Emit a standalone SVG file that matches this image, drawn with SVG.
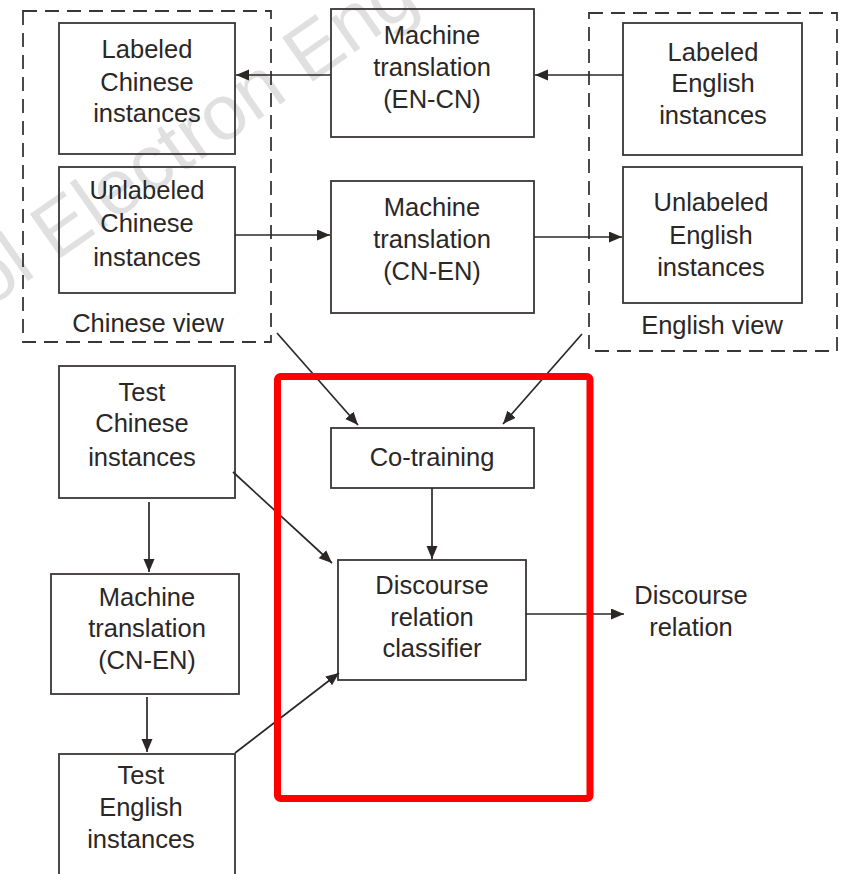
<svg xmlns="http://www.w3.org/2000/svg" width="845" height="874" viewBox="0 0 845 874">
<defs>
<marker id="ah" markerUnits="userSpaceOnUse" markerWidth="14" markerHeight="12" refX="13" refY="5.5" orient="auto">
<path d="M0,0 L13,5.5 L0,11 z" fill="#2b2727"/>
</marker>
<style>
.box{fill:none;stroke:#3a3536;stroke-width:1.8}
.dash{fill:none;stroke:#3a3536;stroke-width:1.8;stroke-dasharray:14 8}
.t{font-family:"Liberation Sans",Arial,sans-serif;font-size:25.5px;fill:#2b2727;text-anchor:middle}
.c{stroke:#2b2727;stroke-width:1.7;fill:none;marker-end:url(#ah)}
.wm{font-family:"Liberation Sans",Arial,sans-serif;font-size:78px;fill:#e0e0e0}
</style>
</defs>
<rect width="845" height="874" fill="#ffffff"/>
<text class="wm" transform="translate(-12,309) rotate(-35)">ol Electron Eng</text>

<g id="chinese-view">
<rect class="dash" x="23" y="11" width="248" height="331"/>
<text class="t" x="148" y="332">Chinese view</text>
</g>
<g id="english-view">
<rect class="dash" x="589" y="13" width="248" height="338"/>
<text class="t" x="712" y="334">English view</text>
</g>

<g id="labeled-chinese">
<rect class="box" x="59" y="23" width="176" height="131"/>
<text class="t" x="147" y="58">Labeled</text>
<text class="t" x="147" y="91">Chinese</text>
<text class="t" x="147" y="122">instances</text>
</g>
<g id="unlabeled-chinese">
<rect class="box" x="59" y="167" width="176" height="126"/>
<text class="t" x="147" y="199">Unlabeled</text>
<text class="t" x="147" y="232">Chinese</text>
<text class="t" x="147" y="266">instances</text>
</g>
<g id="mt-en-cn">
<rect class="box" x="331" y="9" width="203" height="128"/>
<text class="t" x="432" y="44">Machine</text>
<text class="t" x="432" y="76">translation</text>
<text class="t" x="432" y="108">(EN-CN)</text>
</g>
<g id="mt-cn-en">
<rect class="box" x="331" y="181" width="203" height="132"/>
<text class="t" x="432" y="216">Machine</text>
<text class="t" x="432" y="248">translation</text>
<text class="t" x="432" y="280">(CN-EN)</text>
</g>
<g id="labeled-english">
<rect class="box" x="623" y="23" width="179" height="132"/>
<text class="t" x="713" y="61">Labeled</text>
<text class="t" x="713" y="92">English</text>
<text class="t" x="713" y="124">instances</text>
</g>
<g id="unlabeled-english">
<rect class="box" x="623" y="167" width="179" height="136"/>
<text class="t" x="711" y="211">Unlabeled</text>
<text class="t" x="711" y="244">English</text>
<text class="t" x="711" y="276">instances</text>
</g>
<g id="test-chinese">
<rect class="box" x="59" y="366" width="176" height="132"/>
<text class="t" x="142" y="401">Test</text>
<text class="t" x="142" y="432">Chinese</text>
<text class="t" x="142" y="466">instances</text>
</g>
<g id="co-training">
<rect class="box" x="331" y="428" width="203" height="60"/>
<text class="t" x="432" y="466">Co-training</text>
</g>
<g id="classifier">
<rect class="box" x="338" y="560" width="188" height="120"/>
<text class="t" x="432" y="594">Discourse</text>
<text class="t" x="432" y="626">relation</text>
<text class="t" x="432" y="657">classifier</text>
</g>
<g id="mt-lower">
<rect class="box" x="51" y="574" width="188" height="120"/>
<text class="t" x="147" y="606">Machine</text>
<text class="t" x="147" y="637">translation</text>
<text class="t" x="147" y="669">(CN-EN)</text>
</g>
<g id="test-english">
<rect class="box" x="59" y="754" width="176" height="130"/>
<text class="t" x="141" y="784">Test</text>
<text class="t" x="141" y="816">English</text>
<text class="t" x="141" y="848">instances</text>
</g>
<g id="output">
<text class="t" x="691" y="604">Discourse</text>
<text class="t" x="691" y="636">relation</text>
</g>

<g id="connectors">
<line class="c" x1="623" y1="75" x2="535" y2="75"/>
<line class="c" x1="331" y1="75" x2="236" y2="75"/>
<line class="c" x1="235" y1="235" x2="330" y2="235"/>
<line class="c" x1="534" y1="237" x2="622" y2="237"/>
<line class="c" x1="277" y1="333" x2="358" y2="425"/>
<line class="c" x1="582" y1="334" x2="503" y2="424"/>
<line class="c" x1="432" y1="488" x2="432" y2="559"/>
<line class="c" x1="233" y1="472" x2="332" y2="563"/>
<line class="c" x1="235" y1="753" x2="339" y2="673"/>
<line class="c" x1="149" y1="502" x2="149" y2="572"/>
<line class="c" x1="147" y1="697" x2="147" y2="752"/>
<line class="c" x1="526" y1="614" x2="624" y2="614"/>
</g>

<rect id="highlight" x="277.5" y="376.5" width="312.5" height="422" rx="3" fill="none" stroke="#ff0000" stroke-width="7"/>
</svg>
